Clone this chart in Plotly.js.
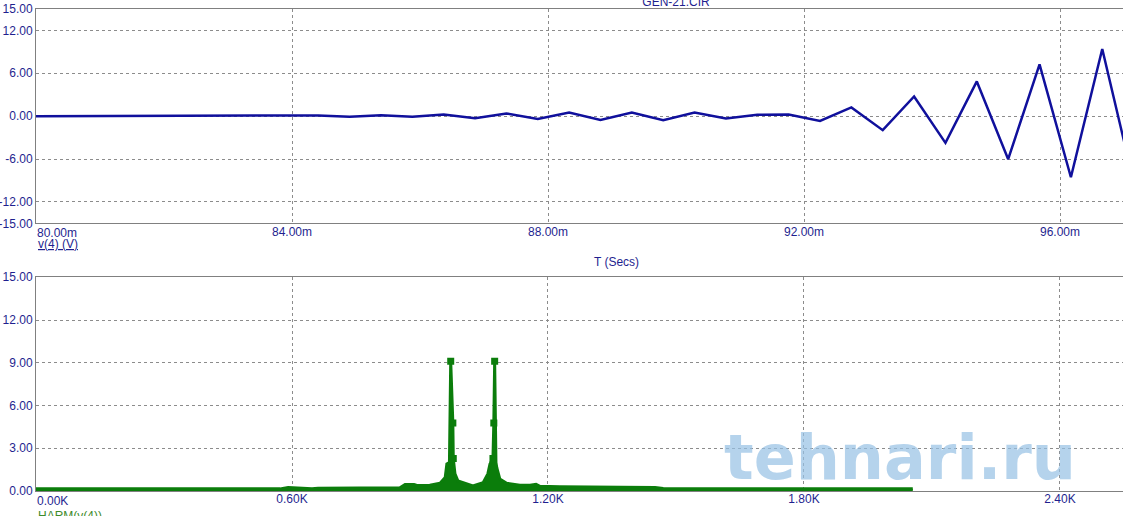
<!DOCTYPE html>
<html><head><meta charset="utf-8">
<script src="https://cdn.plot.ly/plotly-3.0.1.min.js"></script>
<style>html,body{margin:0;padding:0;background:#fff;}#chart{width:1123px;height:516px;}</style>
</head><body><div id="chart"></div>
<script>
// ---- transient: v(4) vs time (ms) ----
const timeMs = [80.00, 80.49, 80.98, 81.47, 81.96, 82.45, 82.94, 83.43, 83.92, 84.41,
                84.90, 85.39, 85.88, 86.37, 86.86, 87.35, 87.84, 88.33, 88.82, 89.31,
                89.80, 90.29, 90.78, 91.27, 91.76, 92.25, 92.74, 93.23, 93.72, 94.21,
                94.70, 95.19, 95.68, 96.17, 96.66, 97.15];
const v4 = [0, 0, 0, 0, 0, 0, 0, 0, 0, 0.10,
            -0.10, 0.14, -0.10, 0.24, -0.28, 0.38, -0.38, 0.52, -0.52, 0.52,
            -0.56, 0.52, -0.32, 0.18, 0.24, -0.66, 1.22, -1.96, 2.76, -3.74,
            4.86, -6.03, 7.25, -8.55, 9.39, -9.2];

// ---- harmonic spectrum HARM(v(4)) vs frequency (Hz) ----
const freqHz = [0, 572, 591, 619, 647, 661, 759, 853, 865, 886,
                895, 923, 947, 959, 963, 969, 972, 977, 978, 982,
                989, 1009, 1024, 1048, 1059, 1064, 1071, 1073, 1075, 1078,
                1080, 1087, 1103, 1134, 1158, 1172, 1181, 1228, 1322, 1369,
                1451, 1470, 1556, 2055];
const harmMag = [0.15, 0.15, 0.25, 0.22, 0.16, 0.2, 0.2, 0.22, 0.45, 0.45,
                 0.38, 0.4, 0.54, 0.94, 1.9, 2.0, 9.1, 4.77, 2.28, 1.2,
                 0.7, 0.47, 0.35, 0.58, 1.2, 1.9, 2.28, 4.77, 9.1, 2.0,
                 1.64, 0.85, 0.54, 0.4, 0.4, 0.47, 0.33, 0.3, 0.25, 0.27,
                 0.25, 0.18, 0.15, 0.15];
const harmMarkerIdx = [16, 17, 18, 26, 27, 28];

// ---- ticks and texts ----
const timeTickVals = [80, 84, 88, 92, 96];
const timeTickText = ["80.00m", "84.00m", "88.00m", "92.00m", "96.00m"];
const voltTickVals = [-15, -12, -6, 0, 6, 12, 15];
const voltTickText = ["-15.00", "-12.00", "-6.00", "0.00", "6.00", "12.00", "15.00"];
const freqTickVals = [0, 600, 1200, 1800, 2400];
const freqTickText = ["0.00K", "0.60K", "1.20K", "1.80K", "2.40K"];
const harmTickVals = [0, 3, 6, 9, 12, 15];
const harmTickText = ["0.00", "3.00", "6.00", "9.00", "12.00", "15.00"];
const plotTitle = "GEN-21.CIR";
const timeAxisTitle = "T (Secs)";
const topTraceName = "v(4) (V)";
const bottomTraceName = "HARM(v(4))";
const watermarkText = "tehnari.ru";

const NAVY = '#1f1f8f';
const LINE_BLUE = '#10109c';
const GREEN = '#0b7d0b';
const GRID = '#8c8c8c';
const AXIS = '#808080';
const FONT = 'Liberation Sans, Arial, sans-serif';

const traces = [
  {x: timeMs, y: v4, xaxis: 'x', yaxis: 'y', mode: 'lines', name: topTraceName,
   line: {color: LINE_BLUE, width: 2.5}, hoverinfo: 'x+y'},
  {x: freqHz, y: harmMag, xaxis: 'x2', yaxis: 'y2', mode: 'lines', name: bottomTraceName,
   fill: 'tozeroy', fillcolor: GREEN, line: {color: GREEN, width: 3}},
  {x: harmMarkerIdx.map(i => freqHz[i]), y: harmMarkerIdx.map(i => harmMag[i]),
   xaxis: 'x2', yaxis: 'y2', mode: 'markers', name: bottomTraceName,
   marker: {symbol: 'square', size: 7, color: GREEN}}
];

function xAxis(vals, text, range, anchor) {
  return {domain: [0, 1], anchor: anchor, range: range, tickvals: vals.slice(1), ticktext: text.slice(1),
    showgrid: true, gridcolor: GRID, griddash: '3px,3px', gridwidth: 1,
    showline: true, linecolor: AXIS, linewidth: 1, mirror: true, zeroline: false,
    ticks: '', ticklabelstandoff: -3,
    tickfont: {family: FONT, size: 12, color: NAVY}, fixedrange: true};
}
function yAxis(vals, text, range, domain, anchor) {
  return {domain: domain, anchor: anchor, range: range, tickvals: vals, ticktext: text,
    showgrid: true, gridcolor: GRID, griddash: '3px,3px', gridwidth: 1,
    showline: true, linecolor: AXIS, linewidth: 1, zeroline: false,
    ticks: '', tickfont: {family: FONT, size: 12, color: NAVY}, fixedrange: true};
}

const lblFont = {family: FONT, size: 12, color: NAVY};

const layout = {
  width: 1123, height: 516,
  margin: {l: 36, r: 0, t: 9, b: 25, pad: 0},
  paper_bgcolor: '#ffffff', plot_bgcolor: '#ffffff',
  showlegend: false,
  title: {text: plotTitle, x: 0.602, xref: 'container', xanchor: 'center',
          y: 0.9967, yref: 'container', yanchor: 'middle',
          font: {family: FONT, size: 12, color: NAVY}},
  xaxis: xAxis(timeTickVals, timeTickText, [80, 96.984], 'y'),
  yaxis: yAxis(voltTickVals, voltTickText, [-15, 15], [0.5554, 1], 'x'),
  xaxis2: Object.assign(xAxis(freqTickVals, freqTickText, [0, 2547.7], 'y2'), {layer: 'below traces'}),
  yaxis2: yAxis(harmTickVals, harmTickText, [0, 15], [0, 0.4434], 'x2'),
  annotations: [
    {text: timeTickText[0], xref: 'x', x: timeTickVals[0], yref: 'y', y: -15,
     xanchor: 'left', yanchor: 'top', showarrow: false, font: lblFont, xshift: -1, yshift: -1},
    {text: freqTickText[0], xref: 'x2', x: freqTickVals[0], yref: 'y2', y: 0,
     xanchor: 'left', yanchor: 'top', showarrow: false, font: lblFont, xshift: -1, yshift: -1},
    {text: topTraceName, xref: 'paper', x: 0, yref: 'paper', y: 0.5125,
     xanchor: 'left', yanchor: 'middle', showarrow: false,
     font: Object.assign({}, lblFont, {lineposition: 'under'})},
    {text: timeAxisTitle, xref: 'paper', x: 0.5336, yref: 'paper', y: 0.4757,
     xanchor: 'center', yanchor: 'middle', showarrow: false, font: lblFont},
    {text: bottomTraceName, xref: 'paper', x: 0, yref: 'paper', y: -0.0332,
     xanchor: 'left', yanchor: 'top', showarrow: false,
     font: {family: FONT, size: 12, color: '#3d8a2a', lineposition: 'under'}},
    {text: watermarkText, xref: 'paper', x: 0.795, yref: 'paper', y: 0.07,
     xanchor: 'center', yanchor: 'middle', showarrow: false,
     font: {family: 'DejaVu Sans', size: 62, weight: 'bold', color: 'rgba(150,192,228,0.7)'}}
  ]
};

Plotly.newPlot('chart', traces, layout, {displayModeBar: false, staticPlot: true});
</script>
</body></html>
